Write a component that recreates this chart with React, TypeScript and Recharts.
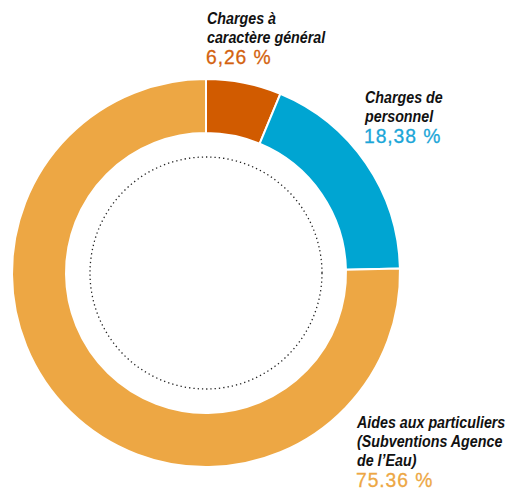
import React from "react";
import { PieChart, Pie, Cell } from "recharts";

const categories = ["Charges à caractère général", "Charges de personnel", "Aides aux particuliers (Subventions Agence de l’Eau)"];
const values = [6.26, 18.38, 75.36];
const percentLabels = ["6,26 %", "18,38 %", "75.36 %"];
const titleLines = [["Charges à", "caractère général"], ["Charges de", "personnel"], ["Aides aux particuliers", "(Subventions Agence", "de l’Eau)"]];
const colors = ["#D15B00", "#00A5D2", "#EDA744"];
const labelColors = ["#D3620E", "#1BA6D8", "#EDA744"];

const data = categories.map((name, i) => ({ name, value: values[i] }));

const W = 508;
const H = 491;
const CX = 206;
const CY = 273;

// label anchor positions (layout)
const labelPos = [
  { x: 207, y: 24 },
  { x: 365, y: 103 },
  { x: 357, y: 428 },
];

const titleFont = "'Liberation Sans', Arial, sans-serif";
const SX = 0.84;

export default function App() {
  return (
    <div style={{ position: "absolute", left: 0, top: 0, width: W, height: H, background: "#fff" }}>
      <PieChart width={W} height={H} margin={{ top: 0, right: 0, bottom: 0, left: 0 }}>
        <Pie
          data={data}
          dataKey="value"
          nameKey="name"
          cx={CX}
          cy={CY}
          innerRadius={140}
          outerRadius={194}
          startAngle={90}
          endAngle={-270}
          stroke="#ffffff"
          strokeWidth={2}
          isAnimationActive={false}
          label={false}
          labelLine={false}
        >
          {data.map((d, i) => (
            <Cell key={d.name} fill={colors[i]} />
          ))}
        </Pie>
        <circle cx={CX} cy={CY} r={116} fill="none" stroke="#222" strokeWidth={1.3} strokeDasharray="1.3 3" />
        {titleLines.map((lines, i) => (
          <g key={i}>
            {lines.map((line, j) => (
              <text
                key={j}
                transform={`translate(${labelPos[i].x},${labelPos[i].y + j * 19}) scale(${SX},1)`}
                fontFamily={titleFont}
                fontWeight={700}
                fontStyle="italic"
                fontSize={17}
                fill="#111"
              >
                {line}
              </text>
            ))}
            <text
              transform={`translate(${labelPos[i].x - 1},${labelPos[i].y + lines.length * 19 + 2}) scale(0.92,1)`}
              fontFamily="'Liberation Sans', Arial, sans-serif"
              fontSize={21}
              letterSpacing={1}
              fill={labelColors[i]}
              stroke={labelColors[i]}
              strokeWidth={0.3}
            >
              {percentLabels[i]}
            </text>
          </g>
        ))}
      </PieChart>
    </div>
  );
}
